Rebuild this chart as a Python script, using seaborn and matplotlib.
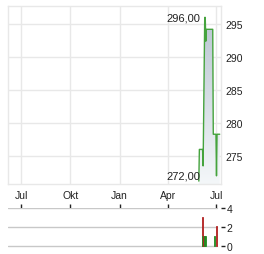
import numpy as np
import pandas as pd
import matplotlib
matplotlib.use("Agg")
import matplotlib.pyplot as plt
import matplotlib.dates as mdates
import seaborn as sns
from matplotlib.colors import LinearSegmentedColormap

# ---- data ----
price_dates = ["2025-05-29", "2025-05-30", "2025-06-02", "2025-06-03", "2025-06-04",
               "2025-06-05", "2025-06-06", "2025-06-09", "2025-06-10", "2025-06-11",
               "2025-06-12", "2025-06-13", "2025-06-16", "2025-06-17", "2025-06-18",
               "2025-06-19", "2025-06-20", "2025-06-23", "2025-06-24", "2025-06-25",
               "2025-06-26", "2025-06-27", "2025-06-30", "2025-07-01", "2025-07-02",
               "2025-07-03", "2025-07-04", "2025-07-07"]
price_values = [271.2, 276.0, 276.0, 276.0, 276.0,
                276.0, 273.5, 296.0, 296.0, 292.4,
                294.2, 294.2, 294.2, 294.2, 294.2,
                294.2, 294.2, 294.2, 294.2, 278.3,
                278.3, 278.3, 278.3, 272.0, 278.3,
                278.3, 278.3, 278.3]

vol_dates = ["2025-06-04", "2025-06-05", "2025-06-06", "2025-06-09", "2025-06-10",
             "2025-06-27", "2025-07-01"]
vol_values = [3.1, 1.05, 1.05, 1.05, 1.05, 1.05, 2.1]
vol_colors = ["#b22222", "#228b22", "#b22222", "#228b22", "#228b22", "#228b22", "#b22222"]

x_tick_dates = ["2024-07-01", "2024-10-01", "2025-01-01", "2025-04-01", "2025-07-01"]
x_tick_labels = ["Jul", "Okt", "Jan", "Apr", "Jul"]
y_ticks = [275, 280, 285, 290, 295]
vol_ticks = [0, 2, 4]
max_label, min_label = "296,00", "272,00"

df = pd.DataFrame({"date": pd.to_datetime(price_dates), "price": price_values})
vdf = pd.DataFrame({"date": pd.to_datetime(vol_dates), "vol": vol_values, "c": vol_colors})

sns.set_style("white")
plt.rcParams["font.family"] = ["Liberation Sans", "DejaVu Sans"]

W, H = 264, 255
fig = plt.figure(figsize=(W / 100, H / 100), dpi=100)

def fx(px): return px / W
def fy(py): return 1 - py / H

xmin = pd.Timestamp("2024-06-06 12:00")
xmax = pd.Timestamp("2025-07-09 10:00")
grid_c = "#e8e8e8"
txt_c = "#222222"
YLO, YHI = 270.76, 297.73

# main axes
ax = fig.add_axes([fx(8), fy(185), fx(221) - fx(8), fy(7) - fy(185)])
ax.set_xlim(xmin, xmax)
ax.set_ylim(YLO, YHI)

# gradient fill under the line
fill = ax.fill_between(df["date"], df["price"], YLO, color="none", lw=0)
grad = np.linspace(0, 1, 256).reshape(-1, 1)
cmap = LinearSegmentedColormap.from_list("g", ["#f4f7f9", "#b9c5d1"])
xn0, xn1 = mdates.date2num(xmin), mdates.date2num(xmax)
im = ax.imshow(grad, aspect="auto", cmap=cmap, origin="lower",
               extent=[xn0, xn1, YLO, 296.5], zorder=1)
im.set_clip_path(fill.get_paths()[0], transform=ax.transData)
ax.set_xlim(xmin, xmax)
ax.set_ylim(YLO, YHI)

sns.lineplot(data=df, x="date", y="price", ax=ax, color="#45a33d", lw=1.0, zorder=3)

ax.set_xticks(pd.to_datetime(x_tick_dates))
ax.set_xticklabels(x_tick_labels)
ax.set_yticks(y_ticks)
ax.yaxis.tick_right()
ax.tick_params(axis="both", length=0, labelsize=7.5, colors=txt_c)
ax.tick_params(axis="x", pad=4)
ax.tick_params(axis="y", pad=3)
ax.grid(True, color=grid_c, lw=1)
ax.set_axisbelow(True)
for s in ax.spines.values():
    s.set_color(grid_c)
    s.set_linewidth(1)
ax.set_xlabel("")
ax.set_ylabel("")

ax.annotate(max_label, xy=(pd.Timestamp("2025-06-09"), 296.0), xytext=(-3, 0),
            textcoords="offset points", ha="right", va="center", fontsize=8, color=txt_c)
ax.annotate(min_label, xy=(pd.Timestamp("2025-07-01"), 272.0), xytext=(-12, 0),
            textcoords="offset points", ha="right", va="center", fontsize=8, color=txt_c)

# volume axes
vb = fy(249)
vt = fy(209.3)
vax = fig.add_axes([fx(8), vb, fx(221) - fx(8), vt - vb])
vax.set_xlim(xmin, xmax)
vax.set_ylim(-0.18, 4)
frac = (217 - 8) / (221 - 8)
for v in vol_ticks:
    vax.axhline(v, xmin=0, xmax=frac, color="#c8c8c8", lw=1, zorder=1)
vax.bar(vdf["date"], vdf["vol"], width=1.8, color=list(vdf["c"]),
        edgecolor=list(vdf["c"]), linewidth=0.6, zorder=3)
vax.set_xlim(xmin, xmax)
vax.set_ylim(-0.18, 4)
for s in vax.spines.values():
    s.set_visible(False)
vax.set_xticks(pd.to_datetime(x_tick_dates))
vax.xaxis.tick_top()
vax.tick_params(axis="x", direction="out", length=3, width=1, color="#222222",
                labeltop=False, labelbottom=False)
vax.set_yticks(vol_ticks)
vax.set_yticklabels([str(v) for v in vol_ticks])
vax.yaxis.tick_right()
vax.tick_params(axis="y", direction="out", length=3, width=1, color="#222222",
                labelsize=7.5, labelcolor=txt_c, pad=1)
vax.set_xlabel("")
vax.set_ylabel("")

fig.savefig("out.png", dpi=100)
